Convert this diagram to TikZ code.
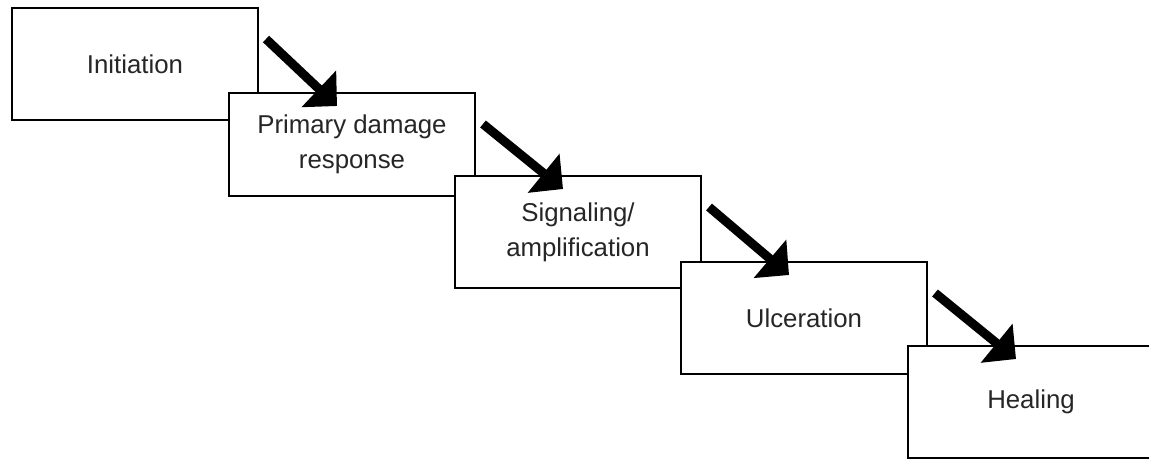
\documentclass[tikz,border=0pt]{standalone}
\usepackage{fontspec}
\setmainfont{Liberation Sans}
\usetikzlibrary{arrows.meta, positioning}
\tikzstyle{stagebox} = [
    rectangle, draw=black, fill=white, line width=2.5pt,
    minimum width=246pt, minimum height=112pt, outer sep=0pt,
    align=center, text=black!85, font=\fontsize{25.8}{35}\selectfont
]
\tikzstyle{flowarrow} = [line width=9pt, -{Triangle[length=25pt, width=49pt]}, draw=black]

\begin{document}
\begin{tikzpicture}[x=1pt, y=-1pt]
    \useasboundingbox (0,0) rectangle (1149,459);
    \node [stagebox, anchor=north west] (init) at (12,8) {Initiation};
    \node [stagebox, minimum height=103pt, below right=-27pt and -29pt of init] (primary) {Primary damage\\response};
    \node [stagebox, below right=-20pt and -20pt of primary] (signal) {Signaling/\\amplification};
    \node [stagebox, below right=-26pt and -20pt of signal] (ulcer) {Ulceration};
    \node [stagebox, below right=-28pt and -19pt of ulcer] (heal) {Healing};

    \foreach \from/\to in {init/primary, primary/signal, signal/ulcer, ulcer/heal}
        \path [flowarrow] ([xshift=8pt, yshift=-31pt]\from.north east) -- ([xshift=108pt, yshift=-13pt]\to.north west);
\end{tikzpicture}
\end{document}
